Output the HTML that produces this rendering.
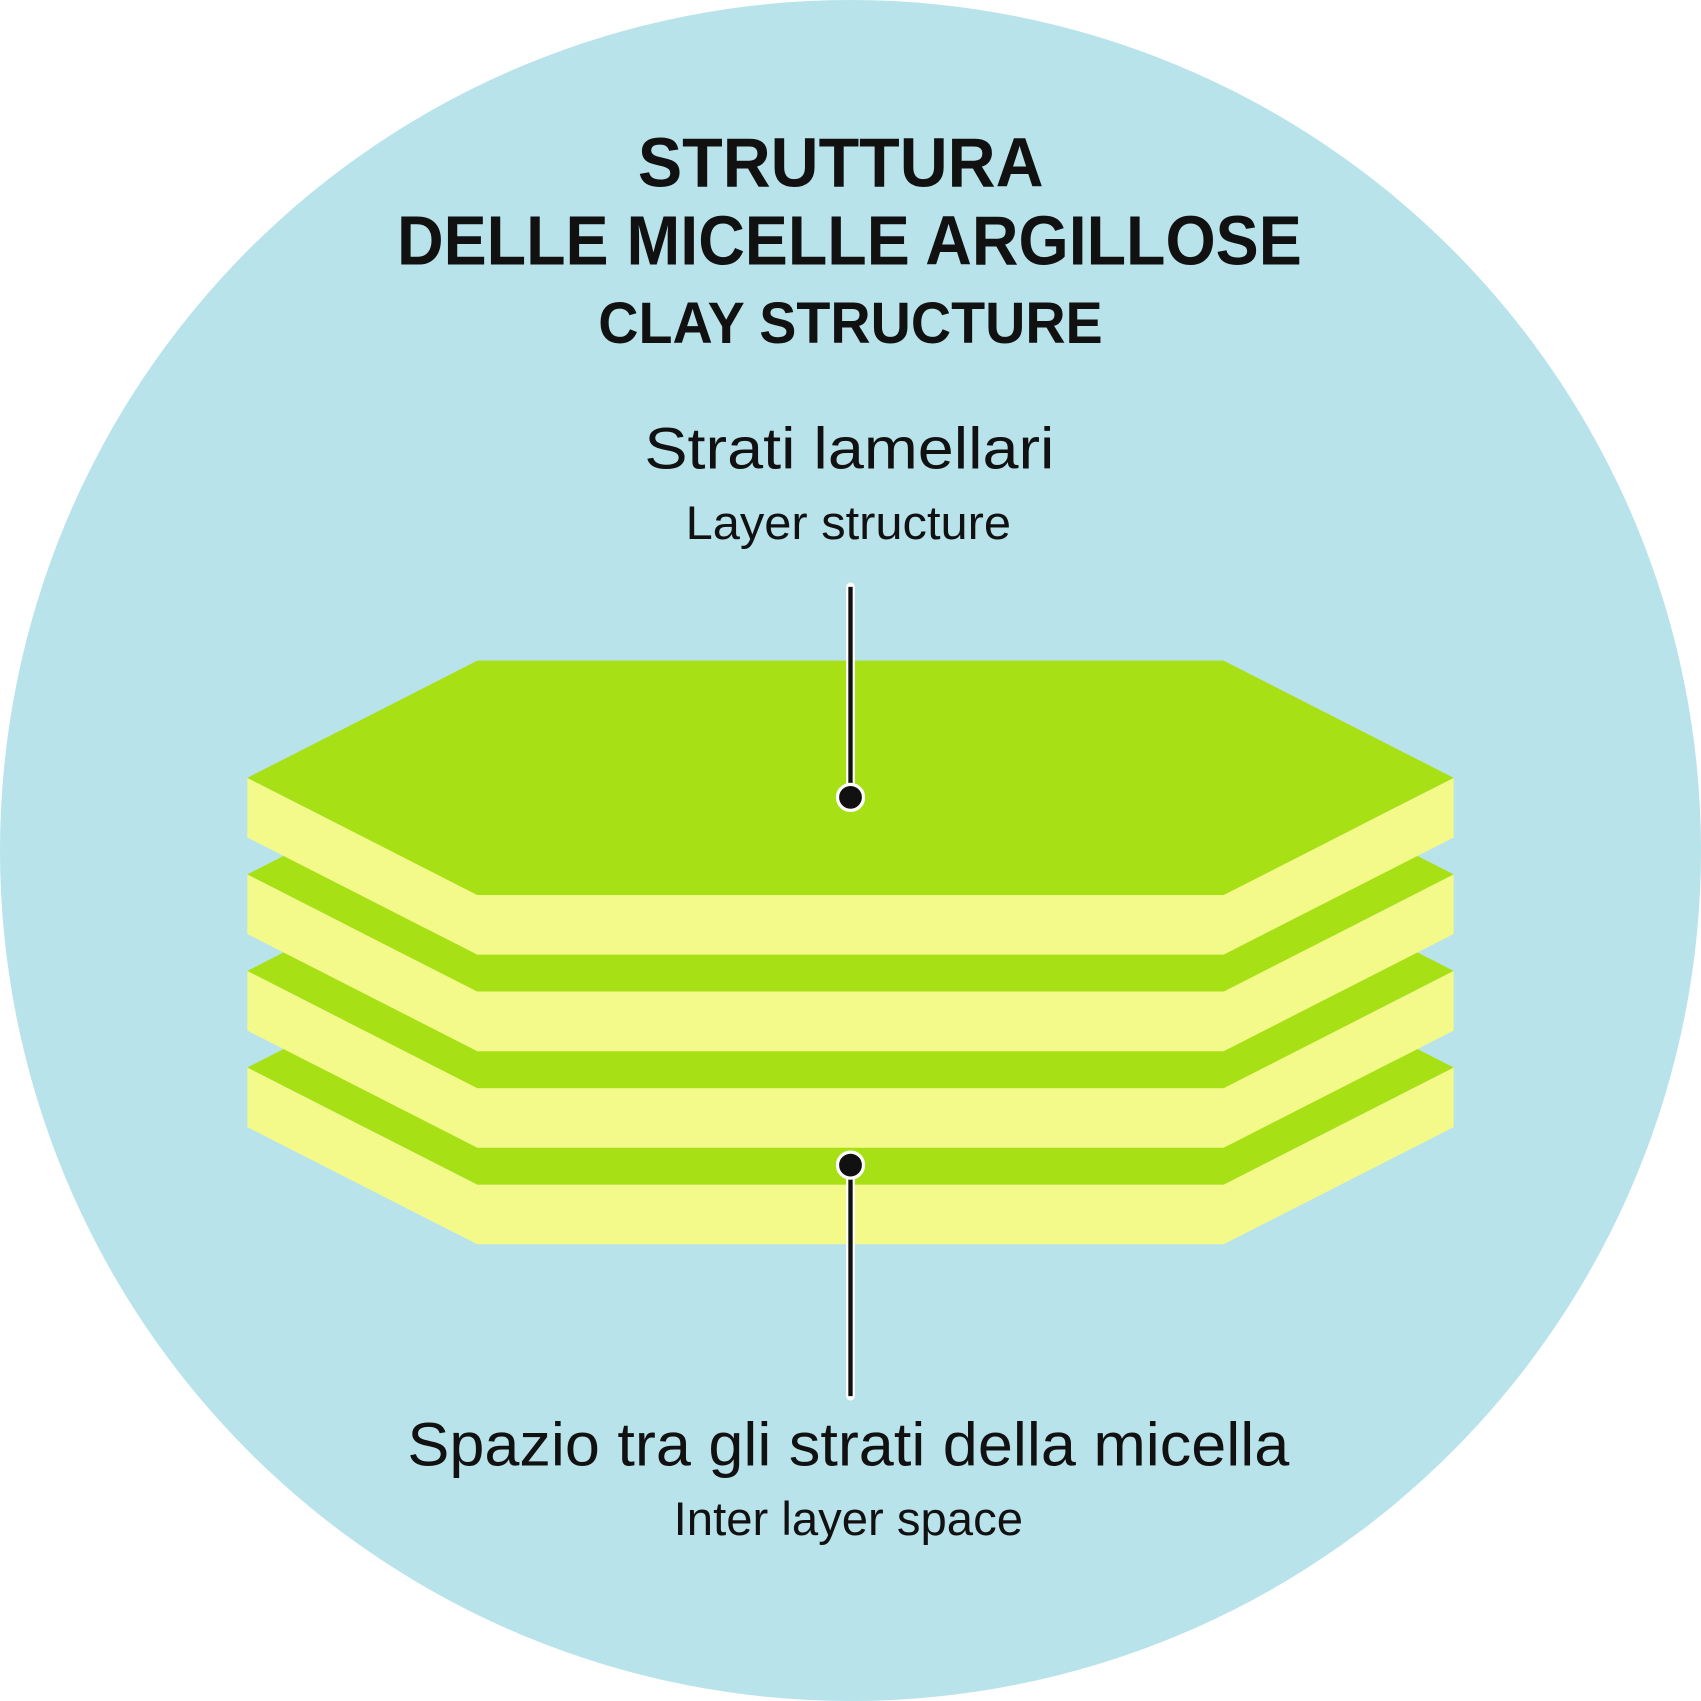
<!DOCTYPE html>
<html><head><meta charset="utf-8"><style>html,body{margin:0;padding:0;background:#fff}svg{display:block}</style></head>
<body>
<svg width="1701" height="1701" viewBox="0 0 1568 1568" xmlns="http://www.w3.org/2000/svg">
<circle cx="784" cy="784" r="784" fill="#b8e3ea"/>
<g font-family="'Liberation Sans', sans-serif" fill="#111" text-anchor="middle">
<text x="775" y="172" font-size="64" font-weight="bold" textLength="374" lengthAdjust="spacingAndGlyphs">STRUTTURA</text>
<text x="783" y="244" font-size="64" font-weight="bold" textLength="834" lengthAdjust="spacingAndGlyphs">DELLE MICELLE ARGILLOSE</text>
<text x="784" y="316" font-size="54" font-weight="bold" textLength="465" lengthAdjust="spacingAndGlyphs">CLAY STRUCTURE</text>
<text x="783" y="432" font-size="54" textLength="378" lengthAdjust="spacingAndGlyphs">Strati lamellari</text>
<text x="782" y="497" font-size="44" textLength="300" lengthAdjust="spacingAndGlyphs">Layer structure</text>
<text x="782" y="1351" font-size="56" textLength="813" lengthAdjust="spacingAndGlyphs">Spazio tra gli strati della micella</text>
<text x="782" y="1415" font-size="44" textLength="322" lengthAdjust="spacingAndGlyphs">Inter layer space</text>
</g>
<g id="layers">
<!-- bottom to top -->
<g transform="translate(0,267)">
<polygon points="228,717 440,825 1128,825 1340,717 1340,772 1128,880 440,880 228,772" fill="#f4fa8a"/>
<polygon points="228,717 440,609 1128,609 1340,717 1128,825 440,825" fill="#a8e016"/>
</g>
<g transform="translate(0,178)">
<polygon points="228,717 440,825 1128,825 1340,717 1340,772 1128,880 440,880 228,772" fill="#f4fa8a"/>
<polygon points="228,717 440,609 1128,609 1340,717 1128,825 440,825" fill="#a8e016"/>
</g>
<g transform="translate(0,89)">
<polygon points="228,717 440,825 1128,825 1340,717 1340,772 1128,880 440,880 228,772" fill="#f4fa8a"/>
<polygon points="228,717 440,609 1128,609 1340,717 1128,825 440,825" fill="#a8e016"/>
</g>
<g>
<polygon points="228,717 440,825 1128,825 1340,717 1340,772 1128,880 440,880 228,772" fill="#f4fa8a"/>
<polygon points="228,717 440,609 1128,609 1340,717 1128,825 440,825" fill="#a8e016"/>
</g>
</g>
<line x1="784" y1="541" x2="784" y2="735" stroke="#fff" stroke-width="8" stroke-linecap="round"/>
<line x1="784" y1="541" x2="784" y2="735" stroke="#111" stroke-width="4"/>
<circle cx="784" cy="735" r="12" fill="#111" stroke="#fff" stroke-width="3"/>
<line x1="784" y1="1074" x2="784" y2="1287" stroke="#fff" stroke-width="8" stroke-linecap="round"/>
<line x1="784" y1="1074" x2="784" y2="1287" stroke="#111" stroke-width="4"/>
<circle cx="784" cy="1074" r="12" fill="#111" stroke="#fff" stroke-width="3"/>
</svg>
</body></html>
